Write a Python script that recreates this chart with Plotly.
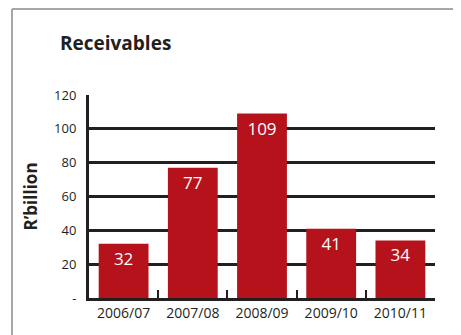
import plotly.graph_objs as go

# receivables per financial year, R'billion
years = ['2006/07', '2007/08', '2008/09', '2009/10', '2010/11']
receivables = [32, 77, 109, 41, 34]

y_ticks = [0, 20, 40, 60, 80, 100, 120]
y_tick_text = ['-', '20', '40', '60', '80', '100', '120']

font_name = 'Open Sans, Noto Sans, sans-serif'
ink = '#231f20'

# the page body adds an 8px offset, so positions below are shifted by -8
plot_l, plot_r, plot_t, plot_b = 81, 427, 87, 290
plot_w = plot_r - plot_l
plot_h = plot_b - plot_t

bars = go.Bar(
    x=years,
    y=receivables,
    text=[str(v) for v in receivables],
    textposition='inside',
    insidetextanchor='end',
    textangle=0,
    textfont=dict(color='white', size=17, family=font_name),
    marker=dict(color='#b5121b', line=dict(width=0)),
    hoverinfo='skip',
)

layout = dict(
    width=461,
    height=335,
    margin=dict(l=plot_l, r=461 - plot_r, t=plot_t, b=335 - plot_b),
    paper_bgcolor='white',
    plot_bgcolor='white',
    showlegend=False,
    bargap=0.28,
    font=dict(family=font_name, color=ink, size=12),
    title=dict(text='<b>Receivables</b>', xref='container', yref='container',
               x=52 / 461, y=1 - 35 / 335, xanchor='left', yanchor='middle',
               font=dict(size=19, color=ink, family=font_name)),
    xaxis=dict(
        showgrid=False,
        showline=True, linecolor=ink, linewidth=3,
        ticks='inside', tickson='boundaries', ticklen=8, tickwidth=2,
        tickcolor=ink,
        tickfont=dict(size=14, color=ink),
    ),
    yaxis=dict(
        range=[0, 120],
        tickvals=y_ticks,
        ticktext=y_tick_text,
        showgrid=True, gridcolor=ink, gridwidth=3,
        zeroline=False,
        showline=True, linecolor=ink, linewidth=3,
        ticks='', ticklabelstandoff=7,
        tickfont=dict(size=13, color=ink),
        title=dict(text='<b>R’billion</b>', standoff=13,
                   font=dict(size=17, color=ink)),
    ),
    shapes=[
        # grey frame around the panel (top and left edges)
        dict(type='line', xref='paper', yref='paper',
             x0=(4 - plot_l) / plot_w, x1=(470 - plot_l) / plot_w,
             y0=(plot_b - 1) / plot_h, y1=(plot_b - 1) / plot_h,
             line=dict(color='#8a8a8a', width=1.5)),
        dict(type='line', xref='paper', yref='paper',
             x0=(4 - plot_l) / plot_w, x1=(4 - plot_l) / plot_w,
             y0=(plot_b - 1) / plot_h, y1=(plot_b - 340) / plot_h,
             line=dict(color='#8a8a8a', width=1.5)),
    ],
)

fig = go.Figure(data=[bars], layout=layout)
fig.write_html('out.html')
